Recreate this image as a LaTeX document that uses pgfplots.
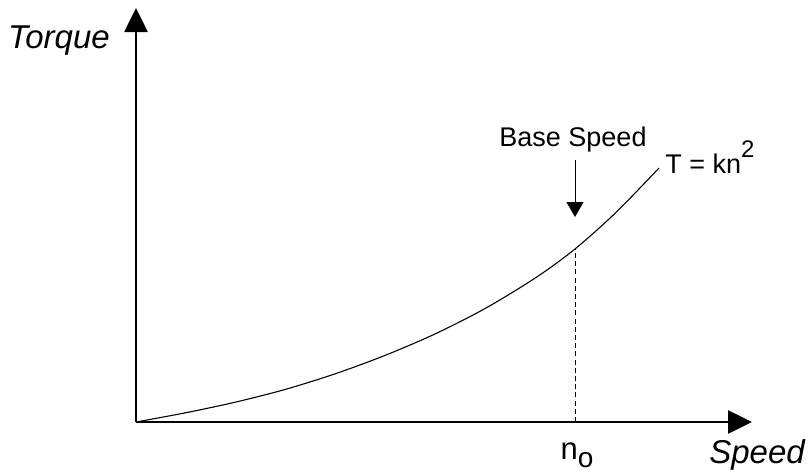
\documentclass[border=0pt]{standalone}
\usepackage{fontspec}
\setmainfont{Liberation Sans}
\usepackage{pgfplots}
\pgfplotsset{compat=1.18}
\usetikzlibrary{arrows.meta}
\begin{document}
\begin{tikzpicture}
\begin{axis}[
  scale only axis,
  width=308pt, height=207pt,
  xmin=0, xmax=616, ymin=0, ymax=414,
  axis lines=left,
  axis line style={line width=1.3pt},
  x axis line style={-{Triangle[length=12pt,width=11.5pt]}},
  y axis line style={-{Triangle[length=12pt,width=11.5pt]}},
  xtick=\empty, ytick=\empty,
  clip=false,
]
\addplot[black, line width=0.55pt, smooth] coordinates {
(0,0) (50,9.3) (100,20) (150,32.8) (200,48.5) (250,67) (300,88.5) (350,114)
(400,144.5) (439,173) (480,209.6) (523,254)
};
\addplot[black, line width=0.45pt, dash pattern=on 2.5pt off 1.6pt] coordinates {(439,0) (439,173)};
\addplot[black, line width=0.5pt, -{Triangle[length=7.5pt,width=8.5pt]}] coordinates {(439,262) (439,205)};
\node[font=\fontsize{16.5}{18}\selectfont\itshape] at (axis cs:-77,381) {Torque};
\node[font=\fontsize{16.5}{18}\selectfont\itshape] at (axis cs:621,-33) {Speed};
\node[font=\fontsize{15.5}{18}\selectfont] at (axis cs:441,-33) {n\raisebox{-0.5ex}{\fontsize{14}{16}\selectfont o}};
\node[font=\fontsize{13.5}{16}\selectfont, anchor=base] at (axis cs:437,276) {Base Speed};
\node[font=\fontsize{13.5}{16}\selectfont, anchor=base west, inner sep=0pt] at (axis cs:529,249) {T = kn\raisebox{1.1ex}{\fontsize{12}{14}\selectfont 2}};
\coordinate (ll) at (axis cs:-136,-50);
\coordinate (ur) at (axis cs:672,422);
\end{axis}
\pgfresetboundingbox
\path (ll) rectangle (ur);
\end{tikzpicture}
\end{document}
